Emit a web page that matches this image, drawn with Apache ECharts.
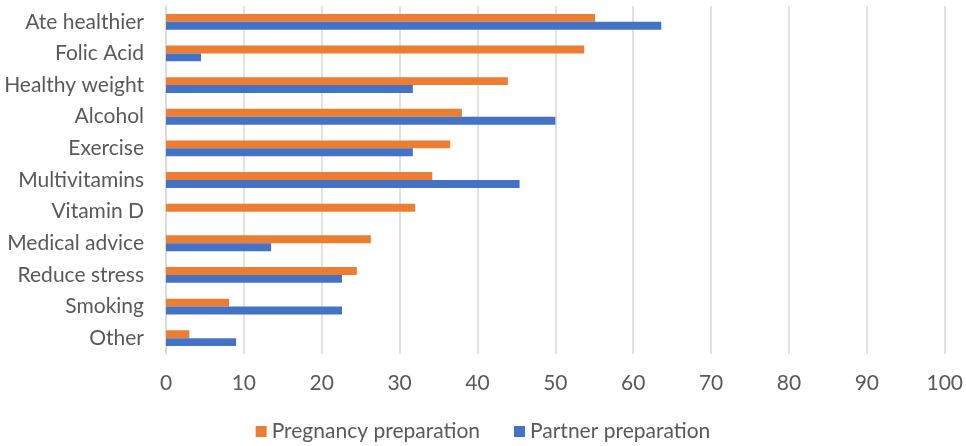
<!DOCTYPE html>
<html>
<head>
<meta charset="utf-8">
<script src="https://cdn.jsdelivr.net/npm/echarts@6/dist/echarts.min.js"></script>
<style>html,body{margin:0;padding:0;background:#fff}#c{width:966px;height:446px}</style>
</head>
<body>
<div id="c"></div>
<script>
const categories = ["Ate healthier","Folic Acid","Healthy weight","Alcohol","Exercise","Multivitamins","Vitamin D","Medical advice","Reduce stress","Smoking","Other"];
const pregnancyPreparation = [55.1, 53.7, 43.9, 38.0, 36.5, 34.2, 32.0, 26.3, 24.5, 8.1, 3.0];
const partnerPreparation = [63.6, 4.5, 31.7, 50.0, 31.7, 45.4, 0, 13.5, 22.6, 22.6, 9.0];
const seriesNames = ["Pregnancy preparation", "Partner preparation"];
const xTicks = {min: 0, max: 100, interval: 10};

const font = "Lato, sans-serif";
const chart = echarts.init(document.getElementById('c'), null, {renderer: 'canvas'});
chart.setOption({
  animation: false,
  grid: {left: 166, right: 20, top: 6, bottom: 92, containLabel: false},
  legend: {
    bottom: -1, left: 'center', itemWidth: 11, itemHeight: 11, itemGap: 34,
    icon: 'rect',
    textStyle: {fontFamily: font, fontSize: 21, color: '#595959'},
    data: seriesNames
  },
  xAxis: {
    type: 'value', min: xTicks.min, max: xTicks.max, interval: xTicks.interval,
    axisLine: {show: false}, axisTick: {show: false},
    splitLine: {lineStyle: {color: '#d9d9d9', width: 1.5}},
    axisLabel: {fontFamily: font, fontSize: 21, color: '#595959', margin: 19}
  },
  yAxis: {
    type: 'category', data: categories, inverse: true,
    axisLine: {show: true, lineStyle: {color: '#d9d9d9', width: 1.5}},
    axisTick: {show: false},
    axisLabel: {fontFamily: font, fontSize: 21, color: '#595959', margin: 22}
  },
  series: [
    {name: seriesNames[0], type: 'bar', data: pregnancyPreparation, itemStyle: {color: '#ED7D31'}, barGap: '0%', barCategoryGap: '50%'},
    {name: seriesNames[1], type: 'bar', data: partnerPreparation, itemStyle: {color: '#4472C4'}, barGap: '0%', barCategoryGap: '50%'}
  ]
});
</script>
</body>
</html>
